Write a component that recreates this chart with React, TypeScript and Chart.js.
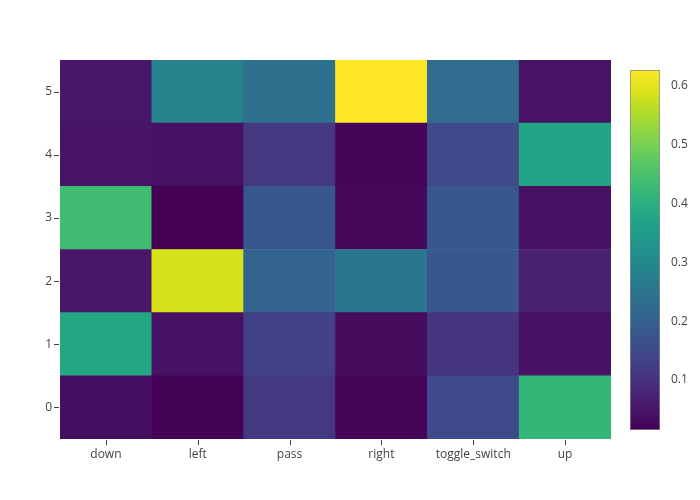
import React, { useEffect, useRef } from "react";
import { Chart, registerables } from "chart.js";

Chart.register(...registerables);

const xCategories = ["down", "left", "pass", "right", "toggle_switch", "up"];
const yCategories = ["0", "1", "2", "3", "4", "5"];

const z0 = [0.036, 0.018, 0.113, 0.021, 0.15, 0.419];
const z1 = [0.38, 0.043, 0.13, 0.033, 0.107, 0.043];
const z2 = [0.052, 0.587, 0.21, 0.254, 0.18, 0.07];
const z3 = [0.437, 0.015, 0.18, 0.027, 0.18, 0.04];
const z4 = [0.046, 0.04, 0.113, 0.024, 0.15, 0.37];
const z5 = [0.052, 0.285, 0.24, 0.627, 0.229, 0.045];
const zRows = [z0, z1, z2, z3, z4, z5];

const colorbarTicks = [0.1, 0.2, 0.3, 0.4, 0.5, 0.6];

const viridis = [
  "#440154", "#48186a", "#472d7b", "#424086", "#3b528b", "#33638d", "#2c728e", "#26828e",
  "#21918c", "#1fa088", "#28ae80", "#3fbc73", "#5ec962", "#84d44b", "#addc30", "#d8e219", "#fde725",
];

function hexToRgb(h: string) {
  return [parseInt(h.slice(1, 3), 16), parseInt(h.slice(3, 5), 16), parseInt(h.slice(5, 7), 16)];
}

function colorAt(t: number) {
  t = Math.max(0, Math.min(1, t));
  const n = viridis.length - 1;
  const p = t * n;
  const i = Math.min(n - 1, Math.floor(p));
  const f = p - i;
  const a = hexToRgb(viridis[i]);
  const b = hexToRgb(viridis[i + 1]);
  const c = a.map((v, k) => Math.round(v + (b[k] - v) * f));
  return `rgb(${c[0]},${c[1]},${c[2]})`;
}

const allZ = zRows.flat();
const zMin = Math.min(...allZ);
const zMax = Math.max(...allZ);

const tickMarks = {
  id: "tickMarks",
  afterDraw(chart: any) {
    const ctx = chart.ctx;
    const area = chart.chartArea;
    const xs = chart.scales.x;
    const ys = chart.scales.y;
    ctx.save();
    ctx.strokeStyle = "#444";
    ctx.lineWidth = 1;
    ctx.beginPath();
    xs.ticks.forEach((_: any, i: number) => {
      const px = Math.round(xs.getPixelForTick(i)) + 0.5;
      ctx.moveTo(px, area.bottom + 1);
      ctx.lineTo(px, area.bottom + 6);
    });
    ys.ticks.forEach((_: any, i: number) => {
      const py = Math.round(ys.getPixelForTick(i)) + 0.5;
      ctx.moveTo(area.left - 6, py);
      ctx.lineTo(area.left - 1, py);
    });
    ctx.stroke();
    ctx.restore();
  },
};

export default function App() {
  const mainRef = useRef<HTMLCanvasElement>(null);
  const cbRef = useRef<HTMLCanvasElement>(null);

  useEffect(() => {
    document.body.style.margin = "0";
    Chart.defaults.font.family = '"Open Sans", sans-serif';
    Chart.defaults.font.size = 12;
    Chart.defaults.color = "#444";

    const main = new Chart(mainRef.current!, {
      type: "bar",
      data: {
        labels: xCategories,
        datasets: zRows.map((row, r) => ({
          label: yCategories[r],
          data: xCategories.map(() => [r - 0.5, r + 0.5]) as any,
          backgroundColor: row.map((v) => colorAt((v - zMin) / (zMax - zMin))),
          borderWidth: 0,
          barPercentage: 1,
          categoryPercentage: 1,
          grouped: false,
        })),
      },
      options: {
        animation: false,
        responsive: false,
        layout: { padding: { top: 60, right: 89, left: 0, bottom: 0 } },
        plugins: { legend: { display: false }, tooltip: { enabled: false } },
        scales: {
          x: {
            type: "category",
            grid: { display: false, drawTicks: true, tickLength: 6 },
            border: { display: false },
            ticks: { padding: 2, color: "#444", maxRotation: 0 },
            afterFit: (s: any) => { s.height = 61; },
          },
          y: {
            type: "linear",
            min: -0.5,
            max: 5.5,
            grid: { display: false, drawTicks: true, tickLength: 6 },
            border: { display: false },
            afterBuildTicks: (s: any) => {
              s.ticks = yCategories.map((_, i) => ({ value: i }));
            },
            ticks: {
              padding: 2,
              color: "#444",
              callback: (v: any) => yCategories[Math.round(v)] ?? "",
            },
            afterFit: (s: any) => { s.width = 60; },
          },
        },
      },
      plugins: [tickMarks],
    });

    const cb = new Chart(cbRef.current!, {
      type: "bar",
      data: {
        labels: ["cb"],
        datasets: [
          {
            data: [[zMin, zMax]] as any,
            backgroundColor: (ctx: any) => {
              const area = ctx.chart.chartArea;
              if (!area) return "#440154";
              const g = ctx.chart.ctx.createLinearGradient(0, area.bottom, 0, area.top);
              viridis.forEach((c, i) => g.addColorStop(i / (viridis.length - 1), c));
              return g;
            },
            borderColor: "#888",
            borderWidth: 1,
            borderSkipped: false,
            barPercentage: 1,
            categoryPercentage: 1,
          },
        ],
      },
      options: {
        animation: false,
        responsive: false,
        layout: { padding: { top: 70, bottom: 70, left: 10, right: 0 } },
        plugins: { legend: { display: false }, tooltip: { enabled: false } },
        scales: {
          x: { display: false },
          y: {
            type: "linear",
            position: "right",
            min: zMin,
            max: zMax,
            grid: { display: false },
            border: { display: false },
            afterBuildTicks: (s: any) => {
              s.ticks = colorbarTicks.map((v) => ({ value: v }));
            },
            ticks: {
              padding: 3,
              color: "#444",
              callback: (v: any) => Number(v).toFixed(1),
            },
            afterFit: (s: any) => { s.width = 40; },
          },
        },
      },
    });

    return () => {
      main.destroy();
      cb.destroy();
    };
  }, []);

  return (
    <div style={{ position: "relative", width: 700, height: 500, background: "#fff" }}>
      <canvas ref={mainRef} width={700} height={500} style={{ position: "absolute", left: 0, top: 0 }} />
      <canvas ref={cbRef} width={80} height={500} style={{ position: "absolute", left: 620, top: 0 }} />
    </div>
  );
}
